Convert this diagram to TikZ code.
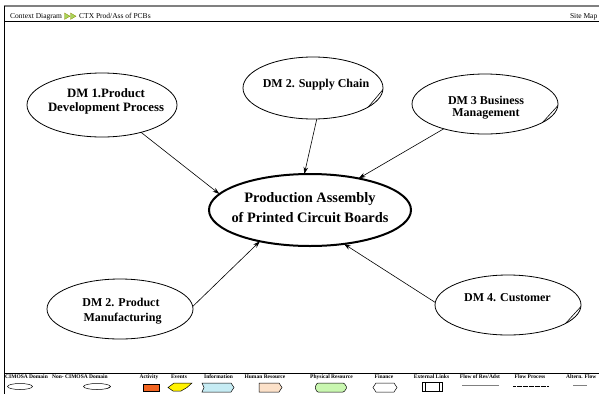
\documentclass[tikz,border=0pt]{standalone}
\usepackage{fontspec}
\setmainfont{Liberation Serif}
\usetikzlibrary{shapes.geometric,arrows.meta}

\definecolor{framegray}{HTML}{808080}
\definecolor{actorange}{HTML}{F26522}
\definecolor{evyellow}{HTML}{FFF200}
\definecolor{infoblue}{HTML}{C6ECF4}
\definecolor{humanpeach}{HTML}{FCE1C9}
\definecolor{physgreen}{HTML}{C9F7B0}
\definecolor{icongreen}{HTML}{A8D65A}

% folded corner of a non-CIMOSA domain ellipse: chord across the lower right arc
\newcommand\foldmark[3]{%
  \draw[line width=0.6pt, shift={(#1.center)}]
    ({#2*cos(38)},{#3*sin(38)}) -- ({#2*cos(3)},{#3*sin(3)});}

\begin{document}
\begin{tikzpicture}[x=1pt,y=-1pt,
  dom/.style={ellipse, draw, line width=0.8pt, inner sep=0pt, outer sep=0pt},
  domtext/.style={font=\bfseries\fontsize{12}{14}\selectfont, align=center, inner sep=0pt},
  flow/.style={-{Stealth[length=7pt,width=4.5pt]}, line width=0.6pt},
  hdr/.style={font=\fontsize{7.5}{9}\selectfont, inner sep=0pt, anchor=base west},
  leg/.style={font=\bfseries\fontsize{5.5}{6}\selectfont, inner sep=0pt, anchor=base},
  legbox/.style={draw, line width=0.5pt}]
\useasboundingbox (0,0) rectangle (599,394);

% page frame
\draw[framegray, line width=1.5pt] (3.5,6) -- (599,6);
\draw[line width=0.8pt] (4,6) -- (4,394);
\draw[line width=0.8pt] (4,21.5) -- (599,21.5);
\draw[line width=0.8pt] (4,373) -- (599,373);

% header bar
\node[hdr] (hdctx) at (10,18.5) {Context Diagram};
\fill[icongreen, draw=olive, line width=0.3pt] (64.5,13) -- (70,16.2) -- (64.5,19.4) -- cycle;
\fill[icongreen, draw=olive, line width=0.3pt] (70.5,13) -- (76,16.2) -- (70.5,19.4) -- cycle;
\node[hdr] (hdpage) at (79,18.5) {CTX Prod/Ass of PCBs};
\node[hdr, anchor=base east] (hdsite) at (597.5,18.5) {Site Map};

% central domain
\node[ellipse, draw, line width=2pt, inner sep=0pt, outer sep=0pt,
      minimum width=202, minimum height=72] (core) at (310,210) {};
\node[font=\bfseries\fontsize{14.4}{20}\selectfont, align=center, inner sep=0pt]
  (coretext) at (310,208) {Production Assembly\\of Printed Circuit Boards};

% surrounding domains
\node[dom, minimum width=150, minimum height=64] (dm1) at (102,105) {};
\node[domtext, font=\bfseries\fontsize{12.8}{14}\selectfont] (dm1text) at (106,101) {DM 1.Product\\Development Process};

\node[dom, minimum width=140, minimum height=62] (dm2s) at (313,88) {};
\node[domtext] (dm2stext) at (316,85) {DM 2. Supply Chain};
\foldmark{dm2s}{70}{31}

\node[dom, minimum width=146, minimum height=60] (dm3) at (485,104) {};
\node[domtext, font=\bfseries\fontsize{12}{12.5}\selectfont] (dm3text) at (486,107.5) {DM 3 Business\\Management};
\foldmark{dm3}{73}{30}

\node[dom, minimum width=146, minimum height=60] (dm2p) at (120,309) {};
\node[domtext, font=\bfseries\fontsize{12}{15}\selectfont] (dm2ptext) at (121,311.5) {DM 2. Product\\\ Manufacturing};

\node[dom, minimum width=146, minimum height=60] (dm4) at (508,305) {};
\node[domtext] (dm4text) at (507.5,298) {DM 4. Customer};
\foldmark{dm4}{73}{30}

% flows into the central domain
\draw[flow] (dm1.-35) -- (core.170);
\draw[flow] (dm2s.-83) -- (core.99);
\draw[flow] (dm3.-149) -- (core.33);
\draw[flow] (dm2p.2) -- (core.-148);
\draw[flow] (dm4.178) -- (core.-45);

% legend
\node[leg, anchor=base west] (lgcim) at (5,378) {CIMOSA Domain};
\node[ellipse, draw, line width=0.5pt, inner sep=0pt, minimum width=25, minimum height=6] (lgcimsh) at (20,386.5) {};

\node[leg] (lgnon) at (80,378) {Non- CIMOSA Domain};
\node[ellipse, draw, line width=0.5pt, inner sep=0pt, minimum width=27, minimum height=6] (lgnonsh) at (97,386.5) {};
\draw[line width=0.4pt, shift={(lgnonsh.center)}] ({13.5*cos(40)},{3*sin(40)}) -- ({13.5*cos(3)},{3*sin(3)});

\node[leg] (lgact) at (149,378) {Activity};
\draw[legbox, fill=actorange] (143,384) rectangle (159,391);

\node[leg] (lgev) at (179,378) {Events};
\draw[legbox, fill=evyellow] (168,387.5) -- (174,383) -- (192,383) -- (187,387.5) -- (181,391) -- (173,391) -- cycle;

\node[leg] (lginfo) at (218.5,378) {Information};
\draw[legbox, fill=infoblue] (202,383) -- (231,383) -- (234,387.5) -- (231,392) -- (202,392) -- (204,387.5) -- cycle;

\node[leg] (lghum) at (265,378) {Human Resource};
\draw[legbox, fill=humanpeach] (259,383) -- (279,383) -- (282,387.5) -- (279,392) -- (259,392) -- cycle;

\node[leg] (lgphys) at (331.5,378) {Physical Resource};
\draw[legbox, fill=physgreen, rounded corners=1pt] (317,383) -- (344,383) -- (347,387.5) -- (344,392) -- (317,392) -- (315,387.5) -- cycle;

\node[leg] (lgfin) at (384,378) {Finance};
\draw[legbox, fill=white] (376,383) -- (394,383) -- (397,387.5) -- (394,392) -- (376,392) -- (373,387.5) -- cycle;

\node[leg] (lgext) at (431.5,378) {External Links};
\draw[legbox] (422,382) rectangle (442,391);
\draw[line width=0.4pt] (425,382) -- (425,391) (439,382) -- (439,391);

\node[leg] (lgres) at (480,378) {Flow of Res/Adst};
\draw[framegray, line width=1.2pt] (462,385.5) -- (499,385.5);

\node[leg] (lgproc) at (530,378) {Flow Process};
\draw[line width=0.4pt, dash pattern=on 0.6pt off 0.6pt] (513,386.5) -- (548,386.5);

\node[leg, anchor=base west] (lgalt) at (566,378) {Altern. Flow};
\draw[framegray, line width=1.2pt] (573,385.5) -- (587,385.5);
\end{tikzpicture}
\end{document}
